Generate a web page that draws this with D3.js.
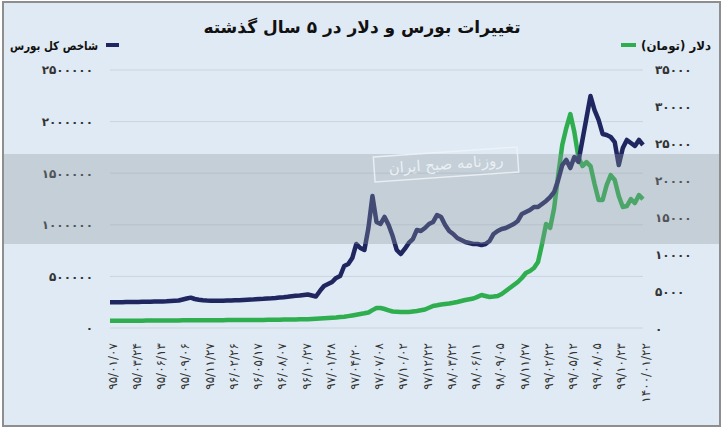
<!DOCTYPE html>
<html>
<head>
<meta charset="utf-8">
<script src="https://cdn.jsdelivr.net/npm/d3@7"></script>
<style>
body{margin:0;background:#fff;}
svg{display:block;font-family:"DejaVu Sans",sans-serif;}
</style>
</head>
<body>
<svg id="chart" width="724" height="432"></svg>
<script>
// ---- data ----
const title = "تغییرات بورس و دلار در ۵ سال گذشته";
const seriesNames = ["شاخص کل بورس", "دلار (تومان)"];
const xLabels = ["۹۵/۰۱/۰۷","۹۵/۰۳/۲۴","۹۵/۰۶/۱۳","۹۵/۰۹/۰۶","۹۵/۱۱/۲۷","۹۶/۰۲/۲۶","۹۶/۰۵/۱۷","۹۶/۰۸/۰۷","۹۶/۱۰/۲۷","۹۷/۰۱/۲۸","۹۷/۰۴/۲۰","۹۷/۰۷/۰۸","۹۷/۱۰/۰۲","۹۷/۱۲/۲۲","۹۸/۰۳/۲۲","۹۸/۰۶/۱۱","۹۸/۰۹/۰۵","۹۸/۱۱/۲۷","۹۹/۰۲/۲۲","۹۹/۰۵/۱۲","۹۹/۰۸/۰۵","۹۹/۱۰/۲۳","۱۴۰۰/۰۱/۲۲"];
const pointsPerLabel = 6;
const leftTicks = [0, 500000, 1000000, 1500000, 2000000, 2500000];
const rightTicks = [0, 5000, 10000, 15000, 20000, 25000, 30000, 35000];
// stock index (left axis)
const bourse = [
249000,249000,250000,250000,252000,252000,252000,253000,254000,254000,
255000,256000,257000,257000,259000,262000,264000,266000,276000,286000,
294000,281000,273000,268000,266000,265000,264000,264000,265000,266000,
266000,268000,269000,271000,273000,275000,278000,281000,283000,286000,
288000,291000,295000,298000,302000,307000,312000,315000,320000,325000,
315000,305000,359000,407000,426000,446000,485000,504000,601000,620000,
678000,814000,775000,756000,969000,1279000,1027000,1008000,1076000,998000,
891000,756000,717000,766000,824000,862000,950000,940000,969000,1008000,
1027000,1095000,1076000,998000,940000,911000,872000,853000,833000,824000,
814000,814000,804000,814000,843000,911000,940000,959000,969000,988000,
1008000,1037000,1105000,1124000,1143000,1172000,1172000,1202000,1231000,1269000,
1318000,1434000,1579000,1628000,1550000,1657000,1609000,1822000,2035000,2248000,
2112000,2016000,1880000,1870000,1851000,1802000,1579000,1744000,1822000,1793000,
1764000,1822000,1773000
];
// dollar rate (right axis)
const dollar = [
1120,1120,1115,1120,1125,1120,1125,1130,1130,1135,
1140,1140,1145,1150,1150,1155,1160,1165,1170,1170,
1175,1180,1180,1185,1185,1190,1190,1195,1195,1200,
1200,1205,1205,1210,1210,1215,1216,1225,1230,1235,
1243,1255,1265,1275,1283,1290,1295,1305,1310,1330,
1360,1390,1419,1450,1490,1520,1554,1610,1662,1740,
1824,1920,2027,2120,2229,2550,2837,2837,2702,2530,
2364,2330,2297,2290,2297,2360,2432,2530,2634,2870,
3107,3200,3310,3380,3445,3540,3648,3780,3918,4020,
4120,4350,4593,4458,4323,4380,4458,4728,5134,5539,
5944,6350,6890,7566,7836,8241,9052,11484,14186,13645,
16347,20805,24858,27155,29047,26615,23237,22021,22562,22021,
19590,17428,17428,19454,20805,20130,17968,16482,16617,17563,
17023,18103,17563
];
const watermarkText = "روزنامه صبح ایران";

// ---- drawing ----
const fa = s => String(s).replace(/\d/g, d => "۰۱۲۳۴۵۶۷۸۹"[d]);
const svg = d3.select("#chart");
const plot = {left: 110, right: 643, top: 70, bottom: 328};
const navy = "#1f2660", green = "#2eae4e";

svg.append("rect").attr("x", 3).attr("y", 2).attr("width", 717).attr("height", 424)
  .attr("fill", "#dfeaf4").attr("stroke", "#8e8e8e").attr("stroke-width", 2);

const n = bourse.length;
const x = d3.scaleLinear().domain([0, n - 1]).range([plot.left, plot.right]);
const yL = d3.scaleLinear().domain([0, 2500000]).range([plot.bottom, plot.top]);
const yR = d3.scaleLinear().domain([0, 35000]).range([plot.bottom + 1, plot.top]);

// gridlines
svg.append("g").selectAll("line").data(leftTicks).join("line")
  .attr("x1", plot.left).attr("x2", plot.right)
  .attr("y1", d => yL(d)).attr("y2", d => yL(d))
  .attr("stroke", "#cbd4dc").attr("stroke-width", 1);

// left axis
const gL = svg.append("g").attr("transform", `translate(${plot.left},0)`)
  .call(d3.axisLeft(yL).tickValues(leftTicks).tickFormat(fa).tickSize(0).tickPadding(17));
gL.select(".domain").remove();
gL.selectAll("text").attr("font-size", 12).attr("font-weight", "bold").attr("fill", "#333")
  .attr("font-family", "DejaVu Sans").attr("letter-spacing", 1.5);

// right axis
const gR = svg.append("g").attr("transform", `translate(${plot.right},0)`)
  .call(d3.axisRight(yR).tickValues(rightTicks).tickFormat(fa).tickSize(0).tickPadding(12));
gR.select(".domain").remove();
gR.selectAll("text").attr("font-size", 12).attr("font-weight", "bold").attr("fill", "#333")
  .attr("font-family", "DejaVu Sans").attr("letter-spacing", 2.5);

// bottom axis
const gB = svg.append("g").attr("transform", `translate(0,${plot.bottom + 1})`)
  .call(d3.axisBottom(x).tickValues(d3.range(0, n, pointsPerLabel))
    .tickFormat(i => xLabels[i / pointsPerLabel]).tickSize(0));
gB.select(".domain").remove();
gB.selectAll("text")
  .attr("transform", "rotate(-90)").attr("x", -14).attr("y", 2).attr("dy", "0.35em")
  .style("text-anchor", "end").attr("font-size", 12).attr("fill", "#333")
  .attr("font-family", "DejaVu Sans").attr("direction", "ltr");

// lines
const lineL = d3.line().x((d, i) => x(i)).y(d => yL(d));
const lineR = d3.line().x((d, i) => x(i)).y(d => yR(d));
svg.append("path").datum(dollar).attr("d", lineR).attr("fill", "none")
  .attr("stroke", green).attr("stroke-width", 4.5).attr("stroke-linejoin", "round");
svg.append("path").datum(bourse).attr("d", lineL).attr("fill", "none")
  .attr("stroke", navy).attr("stroke-width", 4.5).attr("stroke-linejoin", "round");

// watermark band overlay
svg.append("rect").attr("x", 4).attr("y", 154).attr("width", 715).attr("height", 90)
  .attr("fill", "#8f99a2").attr("opacity", 0.33);
const wm = svg.append("g").attr("transform", "translate(446,164) rotate(-4)");
wm.append("rect").attr("x", -72).attr("y", -12).attr("width", 144).attr("height", 25)
  .attr("fill", "none").attr("stroke", "#eef3f7").attr("stroke-width", 1.5).attr("opacity", 0.85);
wm.append("text").attr("text-anchor", "middle").attr("dy", "0.35em").attr("font-size", 15)
  .attr("fill", "#f2f6f9").attr("opacity", 0.85).attr("direction", "rtl").text(watermarkText);

// title
svg.append("text").attr("x", 362).attr("y", 33).attr("text-anchor", "middle")
  .attr("direction", "rtl").attr("font-size", 17).attr("font-weight", "bold").attr("fill", "#111")
  .text(title);

// legends
svg.append("rect").attr("x", 106).attr("y", 43).attr("width", 13).attr("height", 4).attr("fill", navy);
svg.append("text").attr("x", 98).attr("y", 50).attr("direction", "rtl").attr("text-anchor", "start")
  .attr("font-size", 12).attr("font-weight", "bold").attr("fill", "#111")
  .attr("textLength", 88).attr("lengthAdjust", "spacingAndGlyphs").text(seriesNames[0]);
svg.append("rect").attr("x", 621).attr("y", 43).attr("width", 15).attr("height", 4).attr("fill", green);
svg.append("text").attr("x", 711).attr("y", 50).attr("direction", "rtl").attr("text-anchor", "start")
  .attr("font-size", 12).attr("font-weight", "bold").attr("fill", "#111")
  .attr("textLength", 70).attr("lengthAdjust", "spacingAndGlyphs").text(seriesNames[1]);
</script>
</body>
</html>
